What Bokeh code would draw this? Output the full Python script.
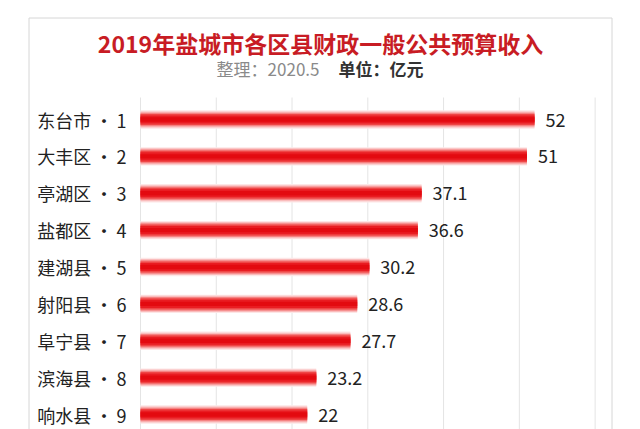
from bokeh.plotting import figure
from bokeh.models import Range1d, ColumnDataSource
from bokeh.core.properties import value
from bokeh.embed import file_html
from bokeh.resources import INLINE

# ---- data ----
districts = ["东台市", "大丰区", "亭湖区", "盐都区", "建湖县", "射阳县", "阜宁县", "滨海县", "响水县"]
ranks = [1, 2, 3, 4, 5, 6, 7, 8, 9]
revenue = [52, 51, 37.1, 36.6, 30.2, 28.6, 27.7, 23.2, 22]
revenue_labels = ["52", "51", "37.1", "36.6", "30.2", "28.6", "27.7", "23.2", "22"]
grid_ticks = [0, 10, 20, 30, 40, 50, 60]
title_text = "2019年盐城市各区县财政一般公共预算收入"
subtitle_left = "整理：2020.5"
subtitle_right = "单位：亿元"

W, H = 640, 429
PX_PER_UNIT = 394 / 52.0
ROW_PX = 36.875


def X(px):
    return (px - 140) / PX_PER_UNIT


def Y(py):
    return 1 + (py - 119) / ROW_PX


p = figure(width=W, height=H, output_backend="svg", toolbar_location=None,
           x_range=Range1d(X(0), X(W)), y_range=Range1d(Y(H), Y(0)),
           x_axis_type=None, y_axis_type=None,
           min_border=0, min_border_left=0, min_border_right=0,
           min_border_top=0, min_border_bottom=0)
p.outline_line_color = None
p.xgrid.visible = False
p.ygrid.visible = False
p.background_fill_color = "white"
p.border_fill_color = "white"

# outer box (bottom edge falls below the visible area)
p.quad(left=[X(28.5)], right=[X(611.5)], top=[Y(17.5)], bottom=[Y(470)],
       fill_color=None, line_color="#d6d6d6", line_width=1)

# vertical grid lines
gy0 = Y(97)
gy1 = Y(470)
p.segment(x0=grid_ticks, x1=grid_ticks, y0=[gy0] * len(grid_ticks), y1=[gy1] * len(grid_ticks),
          line_color="#e4e4e4", line_width=1)

src = ColumnDataSource(dict(
    rank=ranks,
    val=revenue,
    vlab=revenue_labels,
    cat=[f"{d}\u2009·\u2009{r}" for d, r in zip(districts, ranks)],
    zero=[0] * len(ranks),
))

# bars: layered for soft gradient look
layers = [
    (0.50, "#fde6e6"),
    (0.44, "#fabcbc"),
    (0.37, "#f58282"),
    (0.30, "#ef4646"),
    (0.22, "#e91c22"),
    (0.12, "#e30a10"),
]
for h, c in layers:
    p.hbar(y="rank", left="zero", right="val", height=h, source=src,
           fill_color=c, line_color=None)

# category labels
p.text(x="zero", y="rank", text="cat", source=src, x_offset=-14,
       text_align="right", text_baseline="middle",
       text_font=value("Noto Sans CJK SC"), text_font_size="18px", text_color="#222222")

# value labels
p.text(x="val", y="rank", text="vlab", source=src, x_offset=11,
       text_align="left", text_baseline="middle",
       text_font=value("Noto Sans CJK SC"), text_font_size="18px", text_color="#222222")

# title and subtitle
p.text(x=[X(320)], y=[Y(42)], text=[title_text], text_align="center", text_baseline="middle",
       text_font=value("Noto Sans CJK SC"), text_font_style="bold",
       text_font_size="23px", text_color="#c81c24")
p.text(x=[X(319)], y=[Y(68)], text=[subtitle_left], text_align="right", text_baseline="middle",
       text_font=value("Noto Sans CJK SC"), text_font_size="17px", text_color="#8a8a8a")
p.text(x=[X(338)], y=[Y(68)], text=[subtitle_right], text_align="left", text_baseline="middle",
       text_font=value("Noto Sans CJK SC"), text_font_style="bold",
       text_font_size="17px", text_color="#333333")

open("out.html", "w").write(file_html(p, INLINE))
